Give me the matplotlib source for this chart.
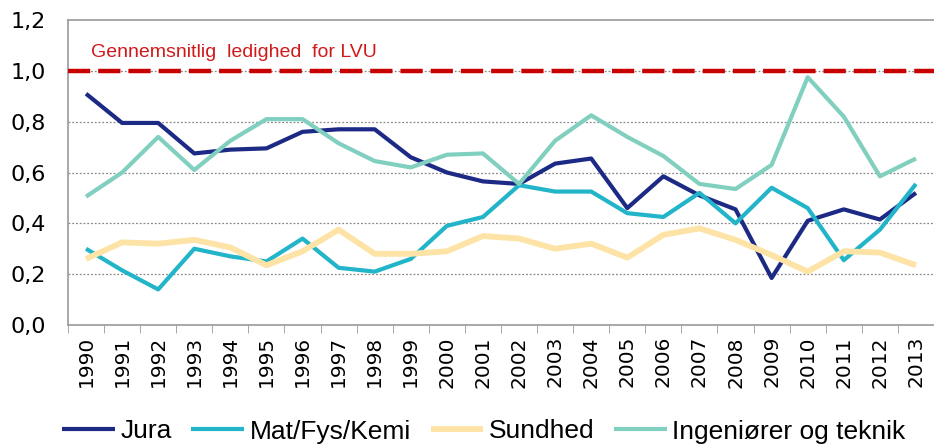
"""Ledighed for LVU fordelt på uddannelsesområde, 1990-2013."""
import matplotlib
matplotlib.use("Agg")
import matplotlib.pyplot as plt
from matplotlib.ticker import FixedLocator

YEARS = [str(y) for y in range(1990, 2014)]
JURA = [0.91, 0.795, 0.795, 0.675, 0.69, 0.695, 0.76, 0.77, 0.77, 0.66, 0.60, 0.565,
        0.555, 0.635, 0.655, 0.46, 0.585, 0.51, 0.455, 0.185, 0.41, 0.455, 0.415, 0.52]
MAT_FYS_KEMI = [0.30, 0.215, 0.14, 0.30, 0.27, 0.25, 0.34, 0.225, 0.21, 0.26, 0.39, 0.425,
                0.55, 0.525, 0.525, 0.44, 0.425, 0.52, 0.40, 0.54, 0.46, 0.255, 0.375, 0.555]
SUNDHED = [0.26, 0.325, 0.32, 0.335, 0.305, 0.235, 0.29, 0.375, 0.28, 0.28, 0.29, 0.35,
           0.34, 0.30, 0.32, 0.265, 0.355, 0.38, 0.335, 0.275, 0.21, 0.29, 0.285, 0.235]
INGENIOERER = [0.505, 0.60, 0.74, 0.61, 0.725, 0.81, 0.81, 0.715, 0.645, 0.62, 0.67, 0.675,
               0.555, 0.725, 0.825, 0.74, 0.665, 0.555, 0.535, 0.63, 0.975, 0.82, 0.585, 0.655]
SERIES = [
    ("Jura", JURA, "#1c2a85", 3.0),
    ("Mat/Fys/Kemi", MAT_FYS_KEMI, "#22b4c9", 3.0),
    ("Sundhed", SUNDHED, "#fde3a5", 4.2),
    ("Ingeniører og teknik", INGENIOERER, "#80cfbf", 3.0),
]
LVU_AVG = 1.0
Y_TICKS = [0.0, 0.2, 0.4, 0.6, 0.8, 1.0, 1.2]

fig = plt.figure(figsize=(9.34, 4.45), dpi=100)
ax = fig.add_axes([0.0728, 0.2697, 0.9272, 0.6853])
x = list(range(len(YEARS)))

for label, values, color, lw in SERIES:
    ax.plot(x, values, color=color, linewidth=lw, label=label, solid_capstyle="butt", zorder=3)

ax.axhline(LVU_AVG, color="#c80000", linewidth=3.2, dashes=(5, 1.8), zorder=4)
ax.text(0.15, 1.072, "Gennemsnitlig  ledighed  for LVU", color="#d0191b",
        fontsize=14, family="Liberation Sans", va="center", ha="left")

ax.set_xlim(-0.5, len(YEARS) - 0.5)
ax.set_ylim(0, 1.2)
ax.set_yticks(Y_TICKS)
ax.set_yticklabels([f"{v:.1f}".replace(".", ",") for v in Y_TICKS], fontsize=16)
ax.set_xticks(x)
ax.set_xticklabels(YEARS, rotation=90, fontsize=14.5)
ax.xaxis.set_minor_locator(FixedLocator([i - 0.5 for i in range(len(YEARS) + 1)]))
ax.tick_params(axis="x", which="major", length=0, pad=8)
ax.tick_params(axis="x", which="minor", length=6, color="#999999")
ax.tick_params(axis="y", length=0, pad=16)

for y in Y_TICKS[1:-1]:
    ax.axhline(y, color="#888888", linewidth=0.9, linestyle=(0, (1.5, 1.5)), zorder=1)

for side in ("left", "bottom", "top"):
    ax.spines[side].set_color("#999999")
    ax.spines[side].set_linewidth(1.2)
ax.spines["right"].set_visible(False)

handles, labels = ax.get_legend_handles_labels()
fig.legend(handles, labels, loc="lower center", bbox_to_anchor=(0.518, -0.05), ncol=4,
           frameon=False, handlelength=2.0, columnspacing=0.75, handletextpad=0.2,
           prop={"family": "Liberation Sans", "size": 19})

fig.savefig("out.png", dpi=100)
